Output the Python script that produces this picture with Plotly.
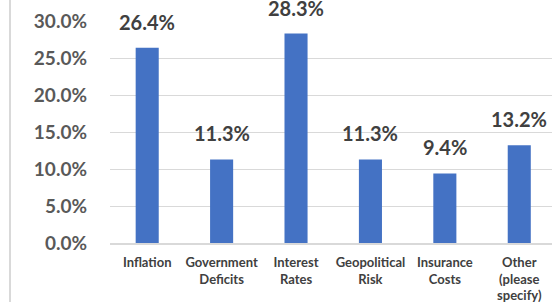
import plotly.graph_objects as go

categories = ["Inflation", "Government<br>Deficits", "Interest<br>Rates", "Geopolitical<br>Risk",
              "Insurance<br>Costs", "Other<br>(please<br>specify)"]
values = [26.4, 11.3, 28.3, 11.3, 9.4, 13.2]
ytick_vals = [0, 5, 10, 15, 20, 25, 30]
ytick_text = ["0.0%", "5.0%", "10.0%", "15.0%", "20.0%", "25.0%", "30.0%"]

W, H = 552, 302
ml, mr, mt = 110, 0, 21
mb = H - mt - 222

fig = go.Figure()
fig.add_trace(go.Bar(
    x=list(range(len(categories))), y=values,
    marker=dict(color="#4472C4", line=dict(width=0)),
    width=0.31, hoverinfo="skip",
))

for i, v in enumerate(values):
    fig.add_annotation(x=i, y=v, text=f"{v:.1f}%", showarrow=False,
                       yanchor="bottom", yshift=12,
                       font=dict(family="Lato", size=20, color="#404040", weight="bold"))

# chart-area left border
pw = W - ml - mr
ph = H - mt - mb
bx = (10 - ml) / pw
fig.add_shape(type="line", xref="paper", yref="paper",
              x0=bx, x1=bx,
              y0=-(H - mt) / ph - 0.05, y1=(mt + 5) / ph + 1,
              line=dict(color="#d9d9d9", width=2))

fig.update_layout(
    width=W, height=H,
    margin=dict(l=ml, r=mr, t=mt, b=mb, pad=0),
    paper_bgcolor="white", plot_bgcolor="white",
    showlegend=False,
    xaxis=dict(
        range=[-0.5, 5.44], tickmode="array",
        tickvals=list(range(len(categories))), ticktext=categories,
        showgrid=False, zeroline=False,
        showline=True, linecolor="#d9d9d9", linewidth=2,
        ticks="", tickfont=dict(family="Lato", size=13, color="#404040", weight="bold"),
        ticklabelstandoff=6,
    ),
    yaxis=dict(
        range=[0, 30], tickmode="array", tickvals=ytick_vals, ticktext=ytick_text,
        showgrid=True, gridcolor="#d9d9d9", gridwidth=1,
        zeroline=False, showline=False, ticks="",
        tickfont=dict(family="Lato", size=19, color="#595959", weight="bold"),
        ticklabelstandoff=22,
    ),
)

fig.write_html(
    "out.html",
    config={"displayModeBar": False},
    post_script="document.body.style.margin='0';document.body.style.overflow='hidden';",
)
